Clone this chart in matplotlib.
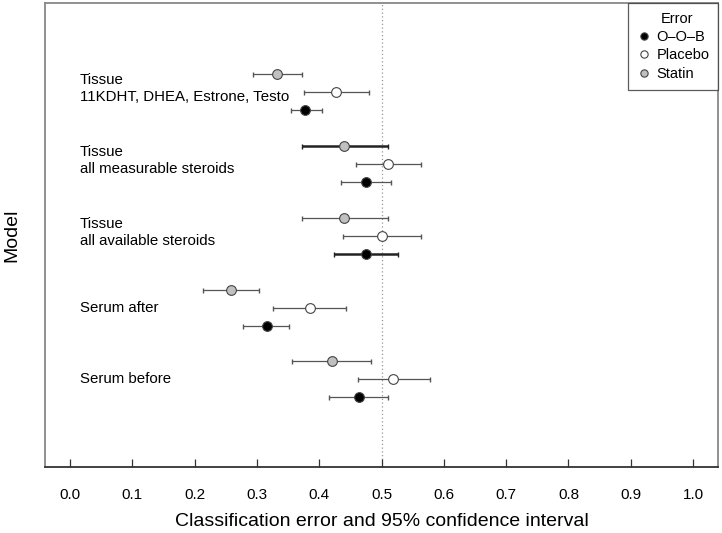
import numpy as np
import matplotlib.pyplot as plt

plt.rcParams['font.family'] = ['Liberation Sans', 'DejaVu Sans']

# models, bottom to top
models = ['Serum before', 'Serum after', 'Tissue\nall available steroids',
          'Tissue\nall measurable steroids', 'Tissue\n11KDHT, DHEA, Estrone, Testo']

# classification error with 95% CI (lower, upper)
oob = [0.464, 0.316, 0.475, 0.475, 0.378]
oob_lo = [0.416, 0.278, 0.424, 0.435, 0.354]
oob_hi = [0.510, 0.352, 0.526, 0.515, 0.405]

placebo = [0.519, 0.385, 0.500, 0.510, 0.427]
placebo_lo = [0.462, 0.326, 0.438, 0.459, 0.375]
placebo_hi = [0.578, 0.443, 0.563, 0.563, 0.480]

statin = [0.420, 0.258, 0.440, 0.440, 0.333]
statin_lo = [0.357, 0.214, 0.372, 0.372, 0.294]
statin_hi = [0.483, 0.303, 0.510, 0.510, 0.372]

xticks = np.arange(0, 1.01, 0.1)

fig = plt.figure(figsize=(7.22, 5.33), dpi=100)
ax = fig.add_axes([0.0623, 0.1238, 0.9322, 0.8706])

ypos = np.arange(1, len(models) + 1)
series = [
    ('O\u2013O\u2013B', oob, oob_lo, oob_hi, -0.25, 'black', [False, False, True, False, False]),
    ('Placebo', placebo, placebo_lo, placebo_hi, 0.0, 'white', [False] * 5),
    ('Statin', statin, statin_lo, statin_hi, 0.25, '#c0c0c0', [False, False, False, True, False]),
]

ax.axvline(0.5, color='#999999', ls=(0, (1, 2)), lw=0.9, zorder=1)

for name, val, lo, hi, off, fc, thick in series:
    val = np.array(val)
    lo = np.array(lo)
    hi = np.array(hi)
    for i in range(len(val)):
        lw = 1.8 if thick[i] else 0.9
        col = '#222222' if thick[i] else '#555555'
        ax.errorbar(val[i], ypos[i] + off, xerr=[[val[i] - lo[i]], [hi[i] - val[i]]],
                    fmt='none', ecolor=col, elinewidth=lw, capsize=1.8,
                    capthick=1.0, zorder=2)
    ax.plot(val, ypos + off, 'o', ms=7, mfc=fc, mec='#444444', mew=0.8,
            zorder=3, label=name)

for y, m in zip(ypos, models):
    dy = 0.05 if '\n' in m else 0.0
    ax.text(0.016, y + dy, m, ha='left', va='center', fontsize=10.8,
            linespacing=1.25)

ax.set_xlim(-0.04, 1.04)
ax.set_ylim(-0.22, 6.24)
ax.set_xticks(xticks)
ax.set_xticklabels(['%.1f' % t for t in xticks], fontsize=11)
ax.set_yticks([])
ax.tick_params(axis='x', direction='in', length=6, width=0.9, pad=15,
               color='#333333')
for s in ax.spines.values():
    s.set_color('#888888')
    s.set_linewidth(1.3)
ax.spines['bottom'].set_color('#333333')

ax.set_xlabel('Classification error and 95% confidence interval', fontsize=14)
ax.xaxis.set_label_coords(0.5, -0.1)
ax.set_ylabel('Model', fontsize=14)
ax.yaxis.set_label_coords(-0.036, 0.5)

leg = ax.legend(loc='upper right', title='Error', fontsize=10.5, title_fontsize=10.5,
                borderaxespad=0, frameon=True, fancybox=False, markerscale=0.75,
                handletextpad=0.35, handlelength=1.0, borderpad=0.6,
                labelspacing=0.3)
leg.get_frame().set_edgecolor('#333333')
leg.get_frame().set_linewidth(0.9)
leg.get_title().set_position((4, 0))

fig.savefig('out.png', dpi=100)
